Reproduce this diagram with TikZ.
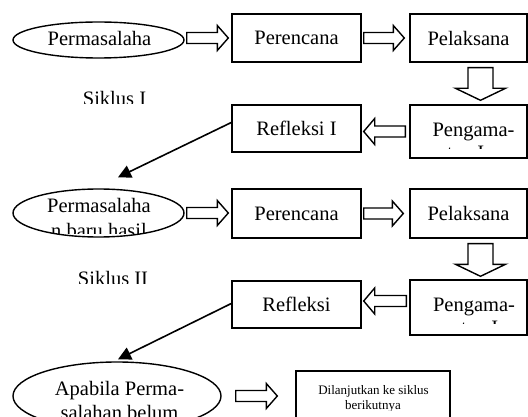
\documentclass[tikz,border=0pt]{standalone}
\usepackage{fontspec}
\setmainfont{Liberation Serif}
\usetikzlibrary{arrows.meta,calc,shapes.geometric}
\newcommand\arrR[2]{\draw[blk] let \p1=#1,\p2=#2 in (\x1,{\y1+5.5pt}) -- ({\x2-11pt},{\y1+5.5pt}) -- ({\x2-11pt},{\y1+12.5pt}) -- (\x2,\y1) -- ({\x2-11pt},{\y1-12.5pt}) -- ({\x2-11pt},{\y1-5.5pt}) -- (\x1,{\y1-5.5pt}) -- cycle;}
\newcommand\arrL[2]{\draw[blk] let \p1=#1,\p2=#2 in (\x1,{\y1+5.5pt}) -- ({\x2+11pt},{\y1+5.5pt}) -- ({\x2+11pt},{\y1+13pt}) -- (\x2,\y1) -- ({\x2+11pt},{\y1-13pt}) -- ({\x2+11pt},{\y1-5.5pt}) -- (\x1,{\y1-5.5pt}) -- cycle;}
\newcommand\arrD[2]{\draw[blk] let \p1=#1,\p2=#2 in ({\x1-12.5pt},\y1) -- ({\x1+12.5pt},\y1) -- ({\x1+12.5pt},{\y2+12pt}) -- ({\x1+25pt},{\y2+12pt}) -- (\x1,\y2) -- ({\x1-25pt},{\y2+12pt}) -- ({\x1-12.5pt},{\y2+12pt}) -- cycle;}
\begin{document}
\begin{tikzpicture}[x=1pt,y=-1pt,
  box/.style={draw,line width=1.4pt,rectangle,inner sep=0pt,font=\fontsize{20.5}{23}\selectfont},
  oval/.style={draw,line width=1.4pt,ellipse,inner sep=0pt},
  lbl/.style={inner sep=0pt,font=\fontsize{20.5}{23}\selectfont,anchor=base},
  small/.style={inner sep=0pt,font=\fontsize{13}{15}\selectfont,anchor=base},
  blk/.style={draw,line width=1.4pt,fill=white,line join=miter},
  diag/.style={line width=1.6pt,-{Triangle[length=13pt,width=13pt]}}]
\clip (0,0) rectangle (528,417);
\fill[white] (0,0) rectangle (528,417);

% ellipses
\node[oval,minimum width=171pt,minimum height=36pt] (e1) at (98.5,40) {};
\node[oval,minimum width=171pt,minimum height=48pt] (e2) at (98.5,213) {};
\node[oval,minimum width=208pt,minimum height=68pt] (e3) at (117,396) {};

% boxes
\node[box,minimum width=129pt,minimum height=48pt] (b1) at (296.5,38) {Perencana};
\node[box,minimum width=117pt,minimum height=48pt] (b2) at (468.5,38) {Pelaksana};
\node[box,minimum width=117pt,minimum height=53pt] (b3) at (468.5,131.5) {};
\node[box,minimum width=129pt,minimum height=47pt] (b4) at (296.5,128.5) {Refleksi I};
\node[box,minimum width=129pt,minimum height=49pt] (b5) at (296.5,213.5) {Perencana};
\node[box,minimum width=117pt,minimum height=49pt] (b6) at (468.5,213.5) {Pelaksana};
\node[box,minimum width=117pt,minimum height=55pt] (b7) at (468.5,307.5) {};
\node[box,minimum width=129pt,minimum height=47pt] (b8) at (296.5,304.5) {Refleksi};
\node[box,minimum width=154pt,minimum height=69pt] (b9) at (373,405.5) {};

% texts
\node[lbl] (t1) at (99.5,46) {Permasalaha};
\node[lbl] (t2) at (99,213) {Permasalaha};
\begin{scope}
\clip (20,220) rectangle (180,234);
\node[lbl] (t3) at (99,237) {n baru hasil};
\end{scope}
\node[lbl] (t4) at (119.5,395) {Apabila Perma-};
\node[lbl] (t5) at (119.5,419) {salahan belum};
\begin{scope}
\clip (60,80) rectangle (170,103.5);
\node[lbl] (s1) at (114.5,105.5) {Siklus I};
\end{scope}
\begin{scope}
\clip (60,260) rectangle (170,283.3);
\node[lbl] (s2) at (113,285.3) {Siklus II};
\end{scope}
\node[lbl] (p1) at (473.5,137) {Pengama-};
\begin{scope}
\clip (412,140) rectangle (525,148.5);
\node[lbl,anchor=base west] (p1b) at (447,160) {tan I};
\end{scope}
\node[lbl] (p2) at (474,311) {Pengama-};
\begin{scope}
\clip (412,314) rectangle (525,323.5);
\node[lbl,anchor=base west] (p2b) at (461,334) {tan I};
\end{scope}
\node[small] (d1) at (373.5,394) {Dilanjutkan ke siklus};
\begin{scope}
\clip (300,396) rectangle (446,410.5);
\node[small] (d2) at (373,409) {berikutnya};
\end{scope}

% block arrows
\arrR{($(e1.east)+(2,-2)$)}{($(b1.west)+(-3,0)$)}
\arrR{($(b1.east)+(2,0)$)}{($(b2.west)+(-5,0)$)}
\arrD{($(b2.south)+(12,5)$)}{($(b3.north)+(0,-4)$)}
\arrL{($(b3.west)+(-4,0)$)}{($(b4.east)+(2,0)$)}
\arrR{($(e2.east)+(2,0)$)}{($(b5.west)+(-3,0)$)}
\arrR{($(b5.east)+(2,0)$)}{($(b6.west)+(-6,0)$)}
\arrD{($(b6.south)+(12,5)$)}{($(b7.north)+(0,-3)$)}
\arrL{($(b7.west)+(-3,-6.5)$)}{($(b8.east)+(2,0)$)}
\arrR{($(e3.east)+(14,0)$)}{($(b9.west)+(-18,0)$)}

% diagonal arrows
\draw[diag] ($(b4.west)+(0,-6)$) -- ($(e2.north)+(19.5,-11)$);
\draw[diag] ($(b8.west)+(0,-1)$) -- ($(e3.north)+(1,-2)$);
\end{tikzpicture}
\end{document}
